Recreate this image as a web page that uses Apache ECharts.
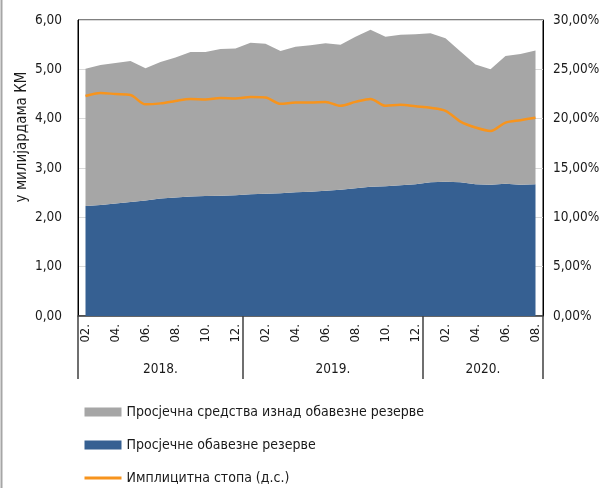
<!DOCTYPE html>
<html>
<head>
<meta charset="utf-8">
<script src="https://cdn.jsdelivr.net/npm/echarts@6/dist/echarts.min.js"></script>
<style>
  html, body { margin: 0; padding: 0; background: #fff; }
  #chart { width: 601px; height: 488px; }
</style>
</head>
<body>
<div id="chart"></div>
<script>
// мјесеци 2018.02 - 2020.08
const months = [
  '02.', '03.', '04.', '05.', '06.', '07.', '08.', '09.', '10.', '11.', '12.',
  '01.', '02.', '03.', '04.', '05.', '06.', '07.', '08.', '09.', '10.', '11.', '12.',
  '01.', '02.', '03.', '04.', '05.', '06.', '07.', '08.'
]
const yearNames = ['2018.', '2019.', '2020.']
const yearMonths = [11, 12, 8]

// у милијардама КМ
const totalFunds = [
  5.01, 5.09, 5.13, 5.17, 5.02, 5.15, 5.24, 5.35, 5.35, 5.41, 5.42,
  5.54, 5.52, 5.37, 5.46, 5.49, 5.53, 5.50, 5.66, 5.80, 5.66, 5.70, 5.71,
  5.73, 5.63, 5.36, 5.10, 5.00, 5.27, 5.31, 5.38
]
const requiredReserve = [
  2.23, 2.25, 2.28, 2.31, 2.34, 2.38, 2.40, 2.42, 2.43, 2.44, 2.45,
  2.47, 2.48, 2.49, 2.51, 2.52, 2.54, 2.56, 2.59, 2.62, 2.63, 2.65, 2.67,
  2.71, 2.72, 2.71, 2.67, 2.66, 2.68, 2.66, 2.67
]
// имплицитна стопа, %
const impliedRate = [
  22.3, 22.6, 22.5, 22.4, 21.45, 21.55, 21.8, 22.0, 21.95, 22.1, 22.05,
  22.2, 22.15, 21.5, 21.65, 21.65, 21.7, 21.3, 21.7, 22.0, 21.3, 21.4, 21.25,
  21.1, 20.8, 19.7, 19.1, 18.75, 19.6, 19.85, 20.1
]
const aboveReserve = totalFunds.map((t, i) => +(t - requiredReserve[i]).toFixed(2))

const nameAbove = 'Просјечна средства изнад обавезне резерве'
const nameReq = 'Просјечне обавезне резерве'
const nameRate = 'Имплицитна стопа (д.с.)'

// почеци година и средине за натписе
const yearStarts = []
const yearCenters = []
let acc = 0
for (let i = 0; i < yearMonths.length; i++) {
  yearStarts.push(acc)
  yearCenters.push(acc + yearMonths[i] / 2)
  acc += yearMonths[i]
}

const font = '"DejaVu Sans Condensed", "Liberation Sans", sans-serif'
const txt = '#1a1a1a'

const chart = echarts.init(document.getElementById('chart'))

chart.setOption({
  animation: false,
  textStyle: { fontFamily: font },
  grid: {
    left: 78, right: 58, top: 20, bottom: 172,
    containLabel: false,
    outerBoundsMode: 'none',
    show: true, borderColor: '#000', borderWidth: 1
  },
  graphic: [{
    type: 'line',
    shape: { x1: 1.5, y1: 0, x2: 1.5, y2: 488 },
    style: { stroke: '#a6a6a6', lineWidth: 2 }
  }],
  legend: {
    orient: 'vertical',
    left: 83, top: 405,
    padding: 0,
    itemWidth: 37, itemHeight: 9, itemGap: 19, itemTextGap: 7,
    textStyle: { fontFamily: font, fontSize: 14, color: txt },
    data: [
      { name: nameAbove, icon: 'rect' },
      { name: nameReq, icon: 'rect' },
      { name: nameRate, itemStyle: { opacity: 0 }, lineStyle: { width: 3 } }
    ]
  },
  xAxis: [{
    type: 'category',
    data: months,
    boundaryGap: true,
    axisLine: { lineStyle: { color: '#404040', width: 1.5 } },
    axisTick: {
      show: true,
      length: 63,
      interval: (i) => yearStarts.indexOf(i) >= 0,
      lineStyle: { color: '#404040', width: 1.5 }
    },
    axisLabel: {
      interval: 1, rotate: 90, margin: 8,
      fontFamily: font, fontSize: 13, color: txt
    }
  }, {
    type: 'value',
    min: 0, max: acc, interval: 0.5,
    position: 'bottom',
    axisLine: { show: false },
    axisTick: { show: false },
    splitLine: { show: false },
    axisLabel: {
      margin: 46,
      fontFamily: font, fontSize: 13.5, color: txt,
      formatter: (v) => {
        const k = yearCenters.indexOf(v)
        return k >= 0 ? yearNames[k] : ''
      }
    }
  }],
  yAxis: [{
    type: 'value',
    min: 0, max: 6, interval: 1,
    name: 'у милијардама КМ',
    nameLocation: 'middle',
    nameGap: 48,
    nameMoveOverlap: false,
    nameTextStyle: { fontFamily: font, fontSize: 15, color: txt, padding: [0, 0, 0, 62] },
    axisLine: { show: true, lineStyle: { color: '#000' } },
    axisTick: { show: false },
    splitLine: { lineStyle: { color: '#d9d9d9' } },
    axisLabel: {
      margin: 16, fontFamily: font, fontSize: 13.5, color: txt,
      formatter: (v) => v.toFixed(2).replace('.', ',')
    }
  }, {
    type: 'value',
    min: 0, max: 30, interval: 5,
    axisLine: { show: true, lineStyle: { color: '#000' } },
    axisTick: { show: false },
    splitLine: { show: false },
    axisLabel: {
      margin: 10, fontFamily: font, fontSize: 13.5, color: txt,
      formatter: (v) => v.toFixed(2).replace('.', ',') + '%'
    }
  }],
  series: [{
    name: nameReq,
    type: 'line',
    stack: 'funds',
    data: requiredReserve,
    symbol: 'none',
    itemStyle: { color: '#366092' },
    lineStyle: { width: 0 },
    areaStyle: { color: '#366092', opacity: 1 }
  }, {
    name: nameAbove,
    type: 'line',
    stack: 'funds',
    data: aboveReserve,
    symbol: 'none',
    itemStyle: { color: '#a6a6a6' },
    lineStyle: { width: 0 },
    areaStyle: { color: '#a6a6a6', opacity: 1 }
  }, {
    name: nameRate,
    type: 'line',
    yAxisIndex: 1,
    data: impliedRate,
    symbol: 'none',
    smooth: 0.3,
    itemStyle: { color: '#f7941d' },
    lineStyle: { color: '#f7941d', width: 2.5 }
  }]
})
</script>
</body>
</html>
